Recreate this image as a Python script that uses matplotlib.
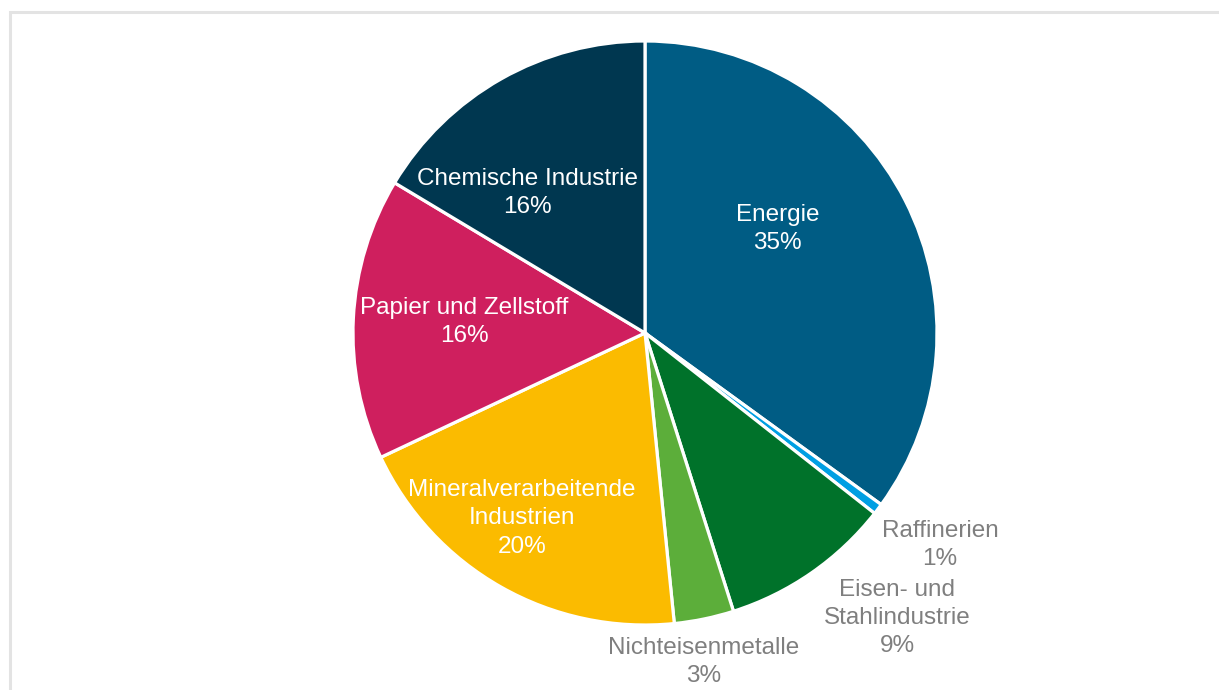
import matplotlib
matplotlib.use("Agg")
from matplotlib import pyplot as plt
from matplotlib.patches import Rectangle

# Anteile in Prozent (im Uhrzeigersinn ab 12 Uhr)
sektoren = ["Energie", "Raffinerien", "Eisen- und\nStahlindustrie", "Nichteisenmetalle",
            "Mineralverarbeitende\nIndustrien", "Papier und Zellstoff", "Chemische Industrie"]
werte = [35.0, 0.6, 9.5, 3.3, 19.6, 15.6, 16.4]
prozent = ["35%", "1%", "9%", "3%", "20%", "16%", "16%"]
farben = ["#005c84", "#009fe3", "#00722a", "#5cae3a", "#fbbb00", "#cf1f5e", "#003750"]

# Lage der Beschriftungen (in Radien) und Textfarbe
label_pos = [(0.455, 0.357), (1.01, -0.726), (0.863, -0.976), (0.202, -1.127),
             (-0.421, -0.634), (-0.62, 0.038), (-0.401, 0.479)]
label_farbe = ["white", "#7f7f7f", "#7f7f7f", "#7f7f7f", "white", "white", "white"]

plt.rcParams['font.family'] = ['Liberation Sans', 'DejaVu Sans']

W, H = 1219, 690
fig = plt.figure(figsize=(W / 100, H / 100), dpi=100)

# heller Rahmen
fig.patches.append(Rectangle((9.5 / W, -0.1), 1.2, (H - 11.5) / H + 0.1,
                             transform=fig.transFigure, fill=False,
                             edgecolor="#e3e3e3", linewidth=2.2))

cx, cy, r = 645, 333, 292
ax = fig.add_axes([(cx - r) / W, 1 - (cy + r) / H, 2 * r / W, 2 * r / H])
ax.pie(werte, colors=farben, startangle=90, counterclock=False, radius=1,
       wedgeprops=dict(edgecolor="white", linewidth=2.3))
ax.set_xlim(-1, 1)
ax.set_ylim(-1, 1)
ax.axis("off")

for name, p, pos, c in zip(sektoren, prozent, label_pos, label_farbe):
    ax.text(pos[0], pos[1], name + "\n" + p, ha="center", va="center",
            color=c, fontsize=17.5, linespacing=1.38, clip_on=False)

plt.savefig("out.png", dpi=100)
